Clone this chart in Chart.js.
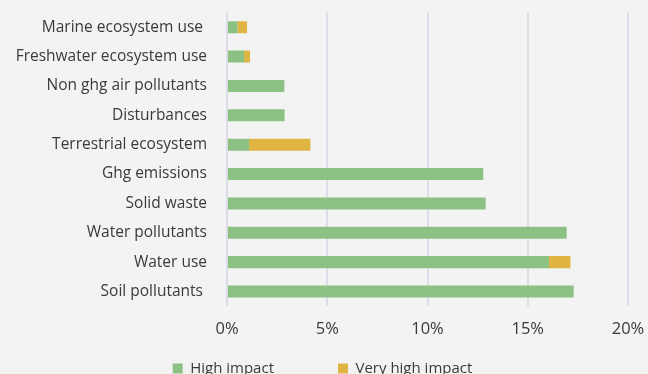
<!DOCTYPE html>
<html>
<head>
<meta charset="utf-8">
<script src="https://cdn.jsdelivr.net/npm/chart.js@4/dist/chart.umd.min.js"></script>
<style>
  html, body { margin: 0; padding: 0; background: #f3f3f3; overflow: hidden; }
  #wrap { width: 648px; height: 374px; overflow: hidden; }
  canvas { display: block; }
</style>
</head>
<body>
<div id="wrap"><canvas id="c" width="648" height="386"></canvas></div>
<script>
// Impact categories, listed top to bottom
const categories = [
  'Marine ecosystem use ',
  'Freshwater ecosystem use',
  'Non ghg air pollutants',
  'Disturbances',
  'Terrestrial ecosystem',
  'Ghg emissions',
  'Solid waste',
  'Water pollutants',
  'Water use',
  'Soil pollutants '
];

// Share of exposure (%) per impact level
const highImpact     = [0.52, 0.85, 2.86, 2.87, 1.10, 12.78, 12.90, 16.94, 16.06, 17.29];
const veryHighImpact = [0.48, 0.30, 0,    0,    3.06, 0,     0,     0,     1.07,  0];

const seriesNames = ['High impact', 'Very high impact'];
const xTicks = [0, 5, 10, 15, 20];

const textColor = '#3a3a3a';
Chart.defaults.font.family = '"Open Sans", "DejaVu Sans", sans-serif';
Chart.defaults.font.size = 15;
Chart.defaults.color = textColor;

new Chart(document.getElementById('c'), {
  type: 'bar',
  data: {
    labels: categories,
    datasets: [
      { label: seriesNames[0], data: highImpact, backgroundColor: '#8bc182', borderWidth: 0 },
      { label: seriesNames[1], data: veryHighImpact, backgroundColor: '#dfb443', borderWidth: 0 }
    ]
  },
  options: {
    indexAxis: 'y',
    responsive: false,
    animation: false,
    datasets: { bar: { categoryPercentage: 1, barPercentage: 0.41 } },
    layout: { padding: { top: 12.5, left: 17, right: 20, bottom: 0 } },
    scales: {
      x: {
        stacked: true,
        min: xTicks[0],
        max: xTicks[xTicks.length - 1],
        afterBuildTicks: (scale) => { scale.ticks = xTicks.map(v => ({ value: v })); },
        afterFit: (scale) => { scale.paddingLeft = 0; scale.paddingRight = 0; },
        ticks: { padding: 13, callback: (v) => v + '%', color: textColor, font: { size: 16.5 } },
        grid: { color: '#dddce9', lineWidth: 2, drawTicks: false },
        border: { display: false }
      },
      y: {
        stacked: true,
        afterFit: (scale) => { scale.width = 210; scale.paddingTop = 0; scale.paddingBottom = 0; },
        ticks: { padding: 20, color: textColor, font: { size: 15.5 } },
        grid: { display: false, drawTicks: false },
        border: { display: false }
      }
    },
    plugins: {
      tooltip: { enabled: false },
      legend: {
        position: 'bottom',
        labels: {
          boxWidth: 10,
          boxHeight: 10,
          padding: 9,
          color: textColor,
          font: { size: 15 },
          generateLabels: (chart) => {
            const items = Chart.defaults.plugins.legend.labels.generateLabels(chart);
            items[0].text = items[0].text + '\u2003\u2003\u2003\u2002\u2009';
            return items;
          }
        }
      }
    }
  }
});
</script>
</body>
</html>
